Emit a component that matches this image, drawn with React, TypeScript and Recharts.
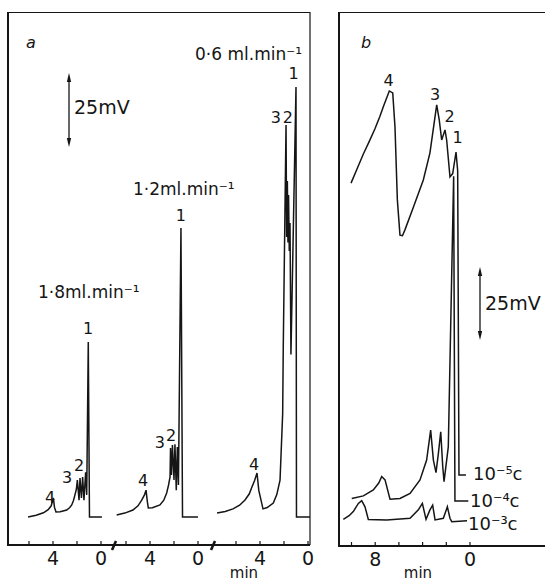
import { LineChart, Line, XAxis, YAxis, ReferenceDot } from 'recharts';

const FONT = '"DejaVu Sans", "Liberation Sans", sans-serif';
const INK = '#151515';

// ---- panel a : three flow rates (time in min, signal in mV above baseline)
const flow18Time = [6.08, 5.4, 4.8, 4.4, 4.15, 3.97, 3.88, 3.75, 3.4, 2.86, 2.6, 2.44, 2.3, 2.17, 2.05, 1.97, 1.83, 1.75, 1.63, 1.53, 1.42, 1.28, 1.19, 1.06, 0.96, -0.08];
const flow18Signal = [0, 0.6, 1.5, 2.6, 4.0, 6.8, 3.5, 1.8, 1.9, 2.5, 3.4, 4.3, 5.8, 7.9, 10, 13.2, 6, 13.9, 6.8, 14.3, 6, 16, 7.9, 62.5, 0, 0];

const flow12Time = [6.78, 6.1, 5.42, 5.0, 4.69, 4.45, 4.33, 4.22, 4.14, 3.8, 3.17, 2.85, 2.61, 2.45, 2.33, 2.29, 2.21, 2.13, 2.0, 1.92, 1.81, 1.72, 1.63, 1.42, 1.29, 0];
const flow12Signal = [0.7, 1.4, 2.5, 4.0, 6.0, 8.0, 9.6, 5.5, 3.2, 3.3, 4.3, 6.0, 8.6, 11.5, 14.3, 24.6, 15, 25.7, 13.2, 26, 9.6, 25, 11.4, 103.2, 0, 0];

const flow06Time = [7.58, 6.9, 6.25, 5.7, 5.25, 4.9, 4.67, 4.45, 4.25, 4.1, 3.75, 3.4, 2.89, 2.6, 2.33, 2.11, 2.06, 1.83, 1.78, 1.72, 1.67, 1.62, 1.56, 1.5, 1.42, 1.0, 0.96, -0.17];
const flow06Signal = [1.4, 2.0, 2.9, 4.2, 6.1, 8.2, 10.7, 13.0, 15.7, 9.5, 2.9, 3.4, 5.0, 8.0, 13.2, 37, 61, 140, 100, 120, 98, 115, 95, 105, 58, 153.6, 0, 0];

// ---- panel b : three concentrations (signal includes the pen offset)
const conc5Time = [10.04, 9.5, 9.0, 8.5, 8.02, 7.6, 7.3, 6.81, 6.52, 6.33, 6.13, 5.91, 5.7, 5.49, 4.78, 3.94, 3.38, 2.81, 2.59, 2.39, 2.11, 1.97, 1.69, 1.46, 1.18, 1.04, 0.93, 0.34];
const conc5Signal = [129.6, 135, 140, 144.5, 149, 153.5, 157, 162.5, 161.8, 149.6, 123.6, 111, 110.8, 112.9, 121, 130.7, 140.4, 157.5, 152, 145, 148.6, 145, 131.8, 133, 140.7, 134, 25.4, 25.4];

const conc4Time = [9.98, 9.0, 8.16, 7.7, 7.45, 7.17, 6.75, 5.91, 5.06, 4.22, 3.66, 3.32, 3.09, 2.87, 2.67, 2.47, 2.3, 2.19, 1.83, 1.38, 1.27, 0.14];
const conc4Signal = [17, 17.9, 20, 22.5, 24.8, 23.6, 16.7, 17, 18.8, 23.6, 30.7, 41.4, 30.7, 26.2, 33, 40.8, 28.3, 23, 35.5, 132, 16.1, 16.1];

const conc3Time = [10.69, 10.2, 9.85, 9.42, 9.14, 8.86, 8.58, 7.03, 5.06, 4.36, 4.02, 3.71, 3.38, 3.15, 2.95, 2.25, 1.91, 1.69, 1.54, 0.25];
const conc3Signal = [9.5, 10.8, 12.3, 15.2, 16.2, 14, 9.5, 9.3, 9.9, 12.9, 15.2, 9.5, 12.9, 14.6, 9.3, 9.9, 14, 9.9, 8.7, 9];

// peak numbers (label centres, same units as the traces)
const peakNames = ['4', '3', '2', '1'];
const peak18Time = [4.25, 2.83, 1.83, 1.08];
const peak18Signal = [7.1, 14.3, 18.6, 67.5];
const peak12Time = [4.58, 3.17, 2.25, 1.42];
const peak12Signal = [13.2, 26.8, 29.3, 107.9];
const peak06Time = [4.5, 2.67, 1.67, 1.21];
const peak06Signal = [18.9, 142.9, 142.9, 158.4];
const peakBTime = [6.88, 2.95, 1.73, 1.05];
const peakBSignal = [166.4, 161.4, 153.6, 146.1];

const ticksA = [0, 2, 4, 6];
const ticksB = [0, 2, 4, 6, 8, 10];

type Pt = { t: number; v: number };
type Peak = { name: string; t: number; v: number };

const toPoints = (time: number[], signal: number[]): Pt[] =>
  time.map((t, i) => ({ t, v: signal[i] }));

const toPeaks = (time: number[], signal: number[]): Peak[] =>
  time.map((t, i) => ({ name: peakNames[i], t, v: signal[i] }));

interface ChromatogramProps {
  left: number;
  width: number;
  height: number;
  domain: [number, number];
  yDomain: [number, number];
  ticks: number[];
  labelled: number[];
  traces: Pt[][];
  peaks: Peak[];
}

function Chromatogram({ left, width, height, domain, yDomain, ticks, labelled, traces, peaks }: ChromatogramProps) {
  return (
    <div style={{ position: 'absolute', left, top: 12 }}>
      <LineChart width={width} height={height} margin={{ top: 0, right: 0, bottom: 0, left: 0 }}>
        <XAxis
          type="number"
          dataKey="t"
          domain={domain}
          allowDataOverflow
          reversed
          ticks={ticks}
          interval={0}
          tickFormatter={(t: number) => (labelled.includes(t) ? String(t) : '')}
          height={30}
          tickSize={-4}
          tickMargin={11}
          axisLine={{ stroke: INK, strokeWidth: 2 }}
          tickLine={{ stroke: INK, strokeWidth: 1.2 }}
          tick={{ fill: INK, fontSize: 19, fontFamily: FONT }}
        />
        <YAxis type="number" domain={yDomain} allowDataOverflow hide />
        {traces.map((d, i) => (
          <Line
            key={i}
            data={d}
            dataKey="v"
            type="linear"
            stroke={INK}
            strokeWidth={1.5}
            dot={false}
            isAnimationActive={false}
          />
        ))}
        {peaks.map((p, i) => (
          <ReferenceDot
            key={`p-${i}`}
            x={p.t}
            y={p.v}
            r={0}
            fill="none"
            stroke="none"
            label={{ value: p.name, position: 'center', fill: INK, fontSize: 16, fontFamily: FONT }}
          />
        ))}
      </LineChart>
    </div>
  );
}

function ScaleArrow({ x, y1, y2 }: { x: number; y1: number; y2: number }) {
  return (
    <g>
      <line x1={x} y1={y1 + 4} x2={x} y2={y2 - 4} stroke={INK} strokeWidth={1.3} />
      <polygon points={`${x - 2.2},${y1 + 9} ${x + 2.2},${y1 + 9} ${x},${y1}`} fill={INK} />
      <polygon points={`${x - 2.2},${y2 - 9} ${x + 2.2},${y2 - 9} ${x},${y2}`} fill={INK} />
    </g>
  );
}

export default function App() {
  const yA: [number, number] = [-10, 180.36];
  const yB: [number, number] = [0, 190.7];
  const txt = { fill: INK, fontFamily: FONT };

  return (
    <div style={{ position: 'absolute', left: 0, top: 0, width: 545, height: 582, overflow: 'hidden', background: '#fff' }}>
      <style>{'.recharts-surface { overflow: visible; }'}</style>
      <Chromatogram left={8} width={105} height={563} domain={[-1.0, 7.75]} yDomain={yA} ticks={ticksA} labelled={[0, 4]}
        traces={[toPoints(flow18Time, flow18Signal)]} peaks={toPeaks(peak18Time, peak18Signal)} />
      <Chromatogram left={113} width={99} height={563} domain={[-1.167, 7.083]} yDomain={yA} ticks={ticksA} labelled={[0, 4]}
        traces={[toPoints(flow12Time, flow12Signal)]} peaks={toPeaks(peak12Time, peak12Signal)} />
      <Chromatogram left={212} width={98} height={563} domain={[-0.167, 8.0]} yDomain={yA} ticks={ticksA} labelled={[0, 4]}
        traces={[toPoints(flow06Time, flow06Signal)]} peaks={toPeaks(peak06Time, peak06Signal)} />
      <Chromatogram left={339} width={206} height={564} domain={[-6.329, 11.055]} yDomain={yB} ticks={ticksB} labelled={[0, 8]}
        traces={[toPoints(conc5Time, conc5Signal), toPoints(conc4Time, conc4Signal), toPoints(conc3Time, conc3Signal)]}
        peaks={toPeaks(peakBTime, peakBSignal)} />

      <svg width={545} height={582} style={{ position: 'absolute', left: 0, top: 0, pointerEvents: 'none' }}>
        {/* frames */}
        <line x1={8} y1={12} x2={8} y2={546} stroke={INK} strokeWidth={2} />
        <line x1={8} y1={12.5} x2={310} y2={12.5} stroke={INK} strokeWidth={1} />
        <line x1={310} y1={12} x2={310} y2={545} stroke={INK} strokeWidth={1.2} />
        <line x1={339} y1={12} x2={339} y2={547} stroke={INK} strokeWidth={2} />
        <line x1={339} y1={12.5} x2={545} y2={12.5} stroke={INK} strokeWidth={1} />

        {/* axis breaks */}
        <line x1={112} y1={550} x2={116} y2={541} stroke={INK} strokeWidth={2.6} />
        <line x1={211} y1={550} x2={215} y2={541} stroke={INK} strokeWidth={2.6} />

        <ScaleArrow x={69} y1={73} y2={147} />
        <ScaleArrow x={480} y1={267} y2={340} />

        <text x={31} y={48} textAnchor="middle" fontSize={16} fontStyle="italic" {...txt}>a</text>
        <text x={366} y={48} textAnchor="middle" fontSize={16} fontStyle="italic" {...txt}>b</text>

        <text x={74} y={114} fontSize={19} {...txt}>25mV</text>
        <text x={485} y={310} fontSize={19} {...txt}>25mV</text>

        <text x={195} y={60} fontSize={17} {...txt}>0·6 ml.min⁻¹</text>
        <text x={133} y={195} fontSize={17} {...txt}>1·2ml.min⁻¹</text>
        <text x={38} y={298} fontSize={17} {...txt}>1·8ml.min⁻¹</text>

        <text x={473} y={480} fontSize={18} {...txt}>10⁻⁵c</text>
        <text x={470} y={507} fontSize={18} {...txt}>10⁻⁴c</text>
        <text x={468} y={530} fontSize={18} {...txt}>10⁻³c</text>

        <text x={244} y={578} textAnchor="middle" fontSize={15} {...txt}>min</text>
        <text x={418} y={578} textAnchor="middle" fontSize={15} {...txt}>min</text>
      </svg>
    </div>
  );
}
